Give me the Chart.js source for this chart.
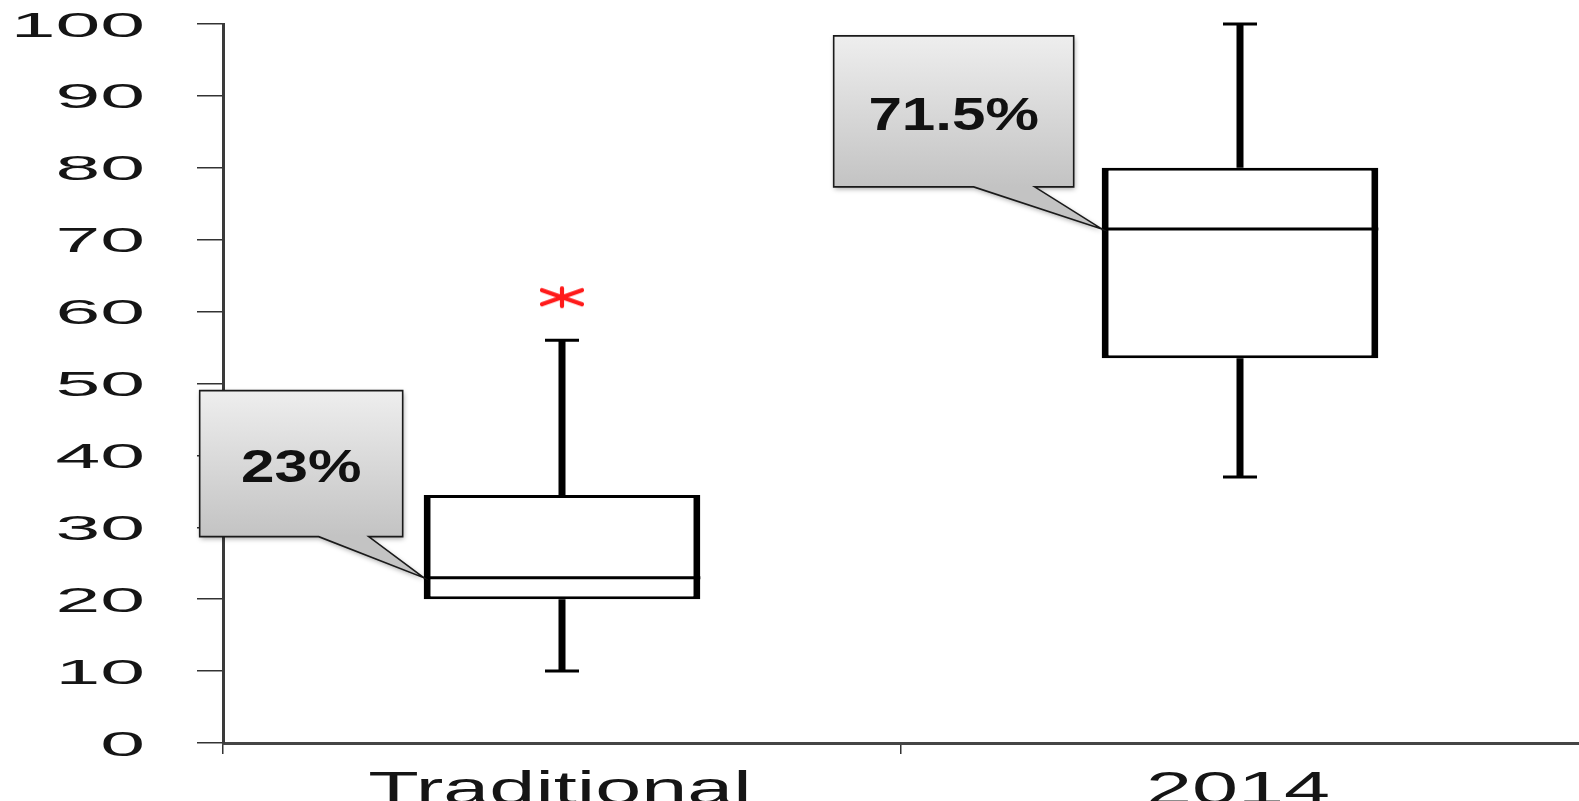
<!DOCTYPE html>
<html><head><meta charset="utf-8">
<script src="https://cdn.jsdelivr.net/npm/chart.js@4.4.1/dist/chart.umd.min.js"></script>
<style>html,body{margin:0;padding:0;background:#fff;overflow:hidden;}canvas{display:block;}</style>
</head><body>
<canvas id="c" width="1579" height="801"></canvas>
<script>
// ---- data ----
const categories = ['Traditional', '2014'];
const whiskerLow = [10, 37];
const quartile1 = [20, 53.5];
const medians = [23, 71.5];
const quartile3 = [34.5, 80];
const whiskerHigh = [56, 100];
const outliers = [62, null];
const calloutLabels = ['23%', '71.5%'];
const yMin = 0, yMax = 100, yStep = 10;

// callout geometry (pixel offsets relative to the pointer tip at the median)
const calloutGeom = [
  {dl: -224, dr: -21, dt: -187, db: -41, b1: -105, b2: -55},
  {dl: -268, dr: -28, dt: -193, db: -42, b1: -128, b2: -67}
];

function makeAsterisk() {
  const c = document.createElement('canvas');
  c.width = 50; c.height = 24;
  const g = c.getContext('2d');
  g.strokeStyle = '#ff1a1a';
  g.lineWidth = 4.2;
  g.lineCap = 'round';
  g.beginPath();
  g.moveTo(5, 5); g.lineTo(45, 19);
  g.moveTo(5, 19); g.lineTo(45, 5);
  g.moveTo(25, 3); g.lineTo(25, 21);
  g.stroke();
  return c;
}

const boxDecor = {
  id: 'boxDecor',
  afterDatasetsDraw(chart) {
    const ctx = chart.ctx;
    const y = chart.scales.y;
    const meta = chart.getDatasetMeta(0);
    ctx.save();
    ctx.strokeStyle = '#000';
    categories.forEach((_, i) => {
      const el = meta.data[i];
      const cx = el.x;
      const half = el.width / 2;
      const capHalf = 17;
      ctx.lineWidth = 7;
      ctx.beginPath();
      ctx.moveTo(cx, y.getPixelForValue(quartile3[i]));
      ctx.lineTo(cx, y.getPixelForValue(whiskerHigh[i]));
      ctx.moveTo(cx, y.getPixelForValue(quartile1[i]));
      ctx.lineTo(cx, y.getPixelForValue(whiskerLow[i]));
      ctx.stroke();
      ctx.lineWidth = 3;
      ctx.beginPath();
      const yh = y.getPixelForValue(whiskerHigh[i]);
      const yl = y.getPixelForValue(whiskerLow[i]);
      ctx.moveTo(cx - capHalf, yh); ctx.lineTo(cx + capHalf, yh);
      ctx.moveTo(cx - capHalf, yl); ctx.lineTo(cx + capHalf, yl);
      const ym = y.getPixelForValue(medians[i]);
      ctx.moveTo(cx - half, ym); ctx.lineTo(cx + half, ym);
      ctx.stroke();
    });
    ctx.restore();
  }
};

const labelsPlugin = {
  id: 'labelsPlugin',
  afterDraw(chart) {
    const ctx = chart.ctx;
    const ys = chart.scales.y, xs = chart.scales.x;
    ctx.save();
    ctx.fillStyle = '#151515';
    const fy = 35;
    ctx.font = fy + 'px "Liberation Sans", Arial, sans-serif';
    ctx.textAlign = 'right';
    ctx.textBaseline = 'alphabetic';
    ys.ticks.forEach(t => {
      const py = ys.getPixelForValue(t.value);
      ctx.save();
      ctx.translate(145, py + fy * 0.716 / 2);
      ctx.scale(2.3, 1);
      ctx.fillText(String(t.value), 0, 0);
      ctx.restore();
    });
    const fx = 46;
    ctx.font = fx + 'px "Liberation Sans", Arial, sans-serif';
    ctx.textAlign = 'center';
    categories.forEach((c, i) => {
      const px = xs.getPixelForValue(i);
      ctx.save();
      ctx.translate(px - 2, xs.top + 28 + fx * 0.716);
      ctx.scale(1.8, 1);
      ctx.fillText(c, 0, 0);
      ctx.restore();
    });

    const meta = chart.getDatasetMeta(0);
    categories.forEach((_, i) => {
      const el = meta.data[i];
      const tx = el.x - el.width / 2;
      const ty = ys.getPixelForValue(medians[i]);
      const g = calloutGeom[i];
      const L = tx + g.dl, R = tx + g.dr, T = ty + g.dt, B = ty + g.db;
      ctx.save();
      const grad = ctx.createLinearGradient(0, T, 0, B);
      grad.addColorStop(0, '#eeeeee');
      grad.addColorStop(1, '#c3c3c3');
      ctx.beginPath();
      ctx.moveTo(L, T); ctx.lineTo(R, T); ctx.lineTo(R, B);
      ctx.lineTo(tx + g.b2, B); ctx.lineTo(tx, ty); ctx.lineTo(tx + g.b1, B);
      ctx.lineTo(L, B); ctx.closePath();
      ctx.shadowColor = 'rgba(0,0,0,0.35)';
      ctx.shadowBlur = 5;
      ctx.shadowOffsetX = 1;
      ctx.shadowOffsetY = 2;
      ctx.fillStyle = grad;
      ctx.fill();
      ctx.shadowColor = 'transparent';
      ctx.lineWidth = 1.6;
      ctx.strokeStyle = '#1a1a1a';
      ctx.stroke();
      const ft = 47;
      ctx.font = 'bold ' + ft + 'px "Liberation Sans", Arial, sans-serif';
      ctx.fillStyle = '#111';
      ctx.textAlign = 'center';
      ctx.textBaseline = 'alphabetic';
      ctx.translate((L + R) / 2, (T + B) / 2 + 2 + ft * 0.716 / 2);
      ctx.scale(1.28, 1);
      ctx.fillText(calloutLabels[i], 0, 0);
      ctx.restore();
    });
    ctx.restore();
  }
};

new Chart(document.getElementById('c'), {
  type: 'bar',
  data: {
    labels: categories,
    datasets: [
      {
        type: 'bar',
        data: categories.map((_, i) => [quartile1[i], quartile3[i]]),
        backgroundColor: '#ffffff',
        borderColor: '#000000',
        borderWidth: {left: 7, right: 7, top: 3, bottom: 3},
        borderSkipped: false,
        barPercentage: 0.408,
        categoryPercentage: 1.0,
        order: 2
      },
      {
        type: 'line',
        data: outliers,
        showLine: false,
        pointStyle: makeAsterisk(),
        pointRadius: 12,
        order: 1
      }
    ]
  },
  options: {
    responsive: false,
    animation: false,
    layout: {autoPadding: false, padding: {top: 24, right: 0, left: 0, bottom: 0}},
    plugins: {legend: {display: false}, tooltip: {enabled: false}},
    scales: {
      x: {
        offset: true,
        afterFit(s) { s.height = 58; s.paddingLeft = 0; s.paddingRight = 0; },
        ticks: {display: false},
        grid: {
          display: true, offset: true, drawOnChartArea: false, drawTicks: true, tickLength: 11,
          color: (c) => (c.type === 'tick' ? '#333' : 'rgba(0,0,0,0)'),
          lineWidth: 1.5
        },
        border: {display: true, color: '#454545', width: 3}
      },
      y: {
        min: yMin, max: yMax,
        afterFit(s) { s.width = 223; },
        ticks: {display: false, stepSize: yStep},
        grid: {display: true, drawOnChartArea: false, drawTicks: true, tickLength: 26, color: '#333', lineWidth: 1.5},
        border: {display: true, color: '#3a3a3a', width: 3}
      }
    }
  },
  plugins: [boxDecor, labelsPlugin]
});
</script>
</body></html>
